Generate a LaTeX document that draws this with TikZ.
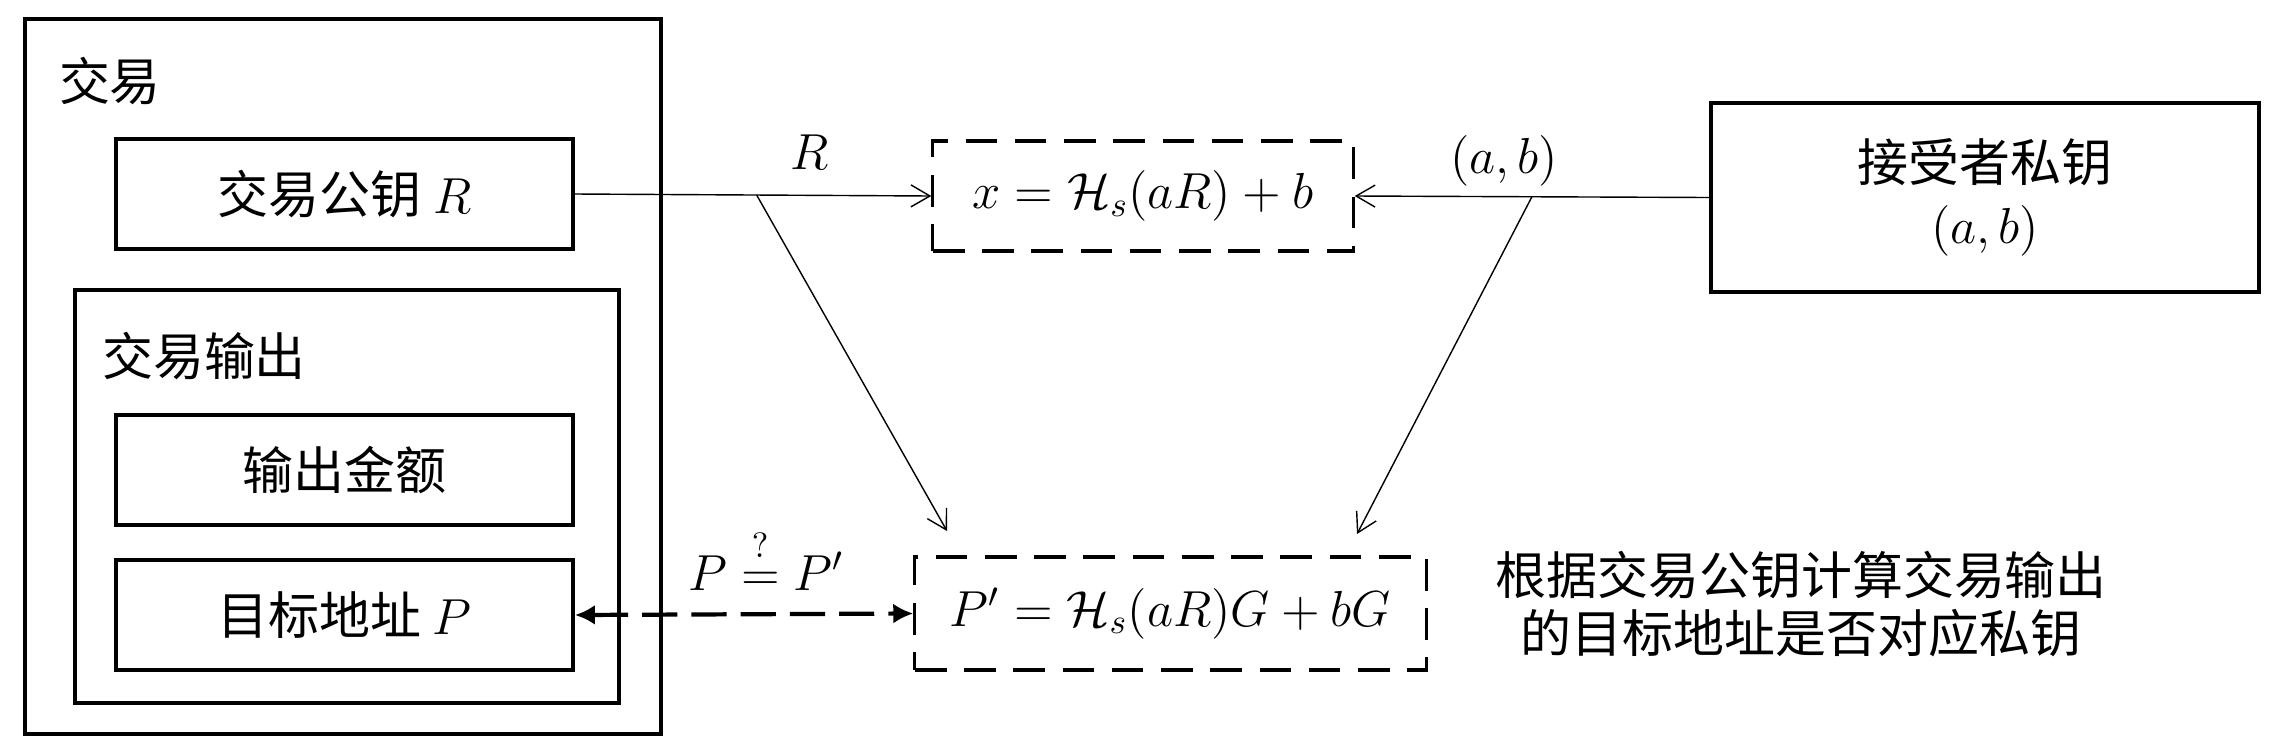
\documentclass[tikz,border=0pt]{standalone}
\usepackage[no-math]{fontspec}
\setmainfont{Noto Sans CJK SC}
\usetikzlibrary{arrows.meta}
\begin{document}
\begin{tikzpicture}[x=0.01cm,y=-0.01cm,
    font=\fontsize{14.5}{17.5}\selectfont,
    box/.style={draw,line width=1pt,inner sep=0pt},
    dbox/.style={draw,line width=0.9pt,dash pattern=on 9pt off 5pt,inner sep=0pt},
    thinarrow/.style={-{Straight Barb[length=1.9mm,width=2.2mm]},line width=0.4pt},
    dasharrow/.style={{Latex[length=2mm,width=2mm]}-{Latex[length=2mm,width=2mm]},line width=1.2pt,dash pattern=on 10pt off 4pt}
  ]
  \useasboundingbox (0,0) rectangle (2292,754);
  \node[box,minimum width=6.36cm,minimum height=7.15cm] (tx) at (343,376.5) {};
  \node (txlabel) at (110,81) {交易};
  \node[box,minimum width=4.57cm,minimum height=1.10cm] (txkey) at (344.5,194) {交易公钥 $R$};
  \node[box,minimum width=5.44cm,minimum height=4.13cm] (out) at (347,496.5) {};
  \node (outlabel) at (204,356) {交易输出};
  \node[box,minimum width=4.57cm,minimum height=1.10cm] (amount) at (344.5,470) {输出金额};
  \node[box,minimum width=4.57cm,minimum height=1.10cm] (addr) at (344.5,615) {目标地址 $P$};
  \node[dbox,minimum width=4.20cm,minimum height=1.10cm] (xbox) at (1143,196) {$x=\mathcal{H}_s(aR)+b$};
  \node[dbox,minimum width=5.11cm,minimum height=1.13cm] (pbox) at (1170.5,613.5) {$P'=\mathcal{H}_s(aR)G+bG$};
  \node[box,minimum width=5.48cm,minimum height=1.89cm,align=center] (privkey) at (1985,197.5) {接受者私钥\\$(a,b)$};
  \node[align=center,font=\fontsize{14.5}{16.5}\selectfont] (note) at (1801,604) {根据交易公钥计算交易输出\\的目标地址是否对应私钥};
  \node (lblR) at (810,152) {$R$};
  \node (lblab) at (1504,161) {$(a,b)$};
  \node[anchor=base,inner sep=1pt] (lbleq) at (766,590) {$P\stackrel{\raisebox{2pt}{$\scriptstyle ?$}}{=}P'$};
  \coordinate (rend) at (947,531);
  \coordinate (kend) at (1357,534);
  \draw[thinarrow] (txkey.east) -- (xbox.west) coordinate[pos=0.51] (rsplit);
  \draw[thinarrow] (privkey.west) -- (xbox.east) coordinate[pos=0.5] (ksplit);
  \draw[thinarrow] (rsplit) -- (rend);
  \draw[thinarrow] (ksplit) -- (kend);
  \draw[dasharrow] (addr.east) -- (pbox.west);
\end{tikzpicture}
\end{document}
